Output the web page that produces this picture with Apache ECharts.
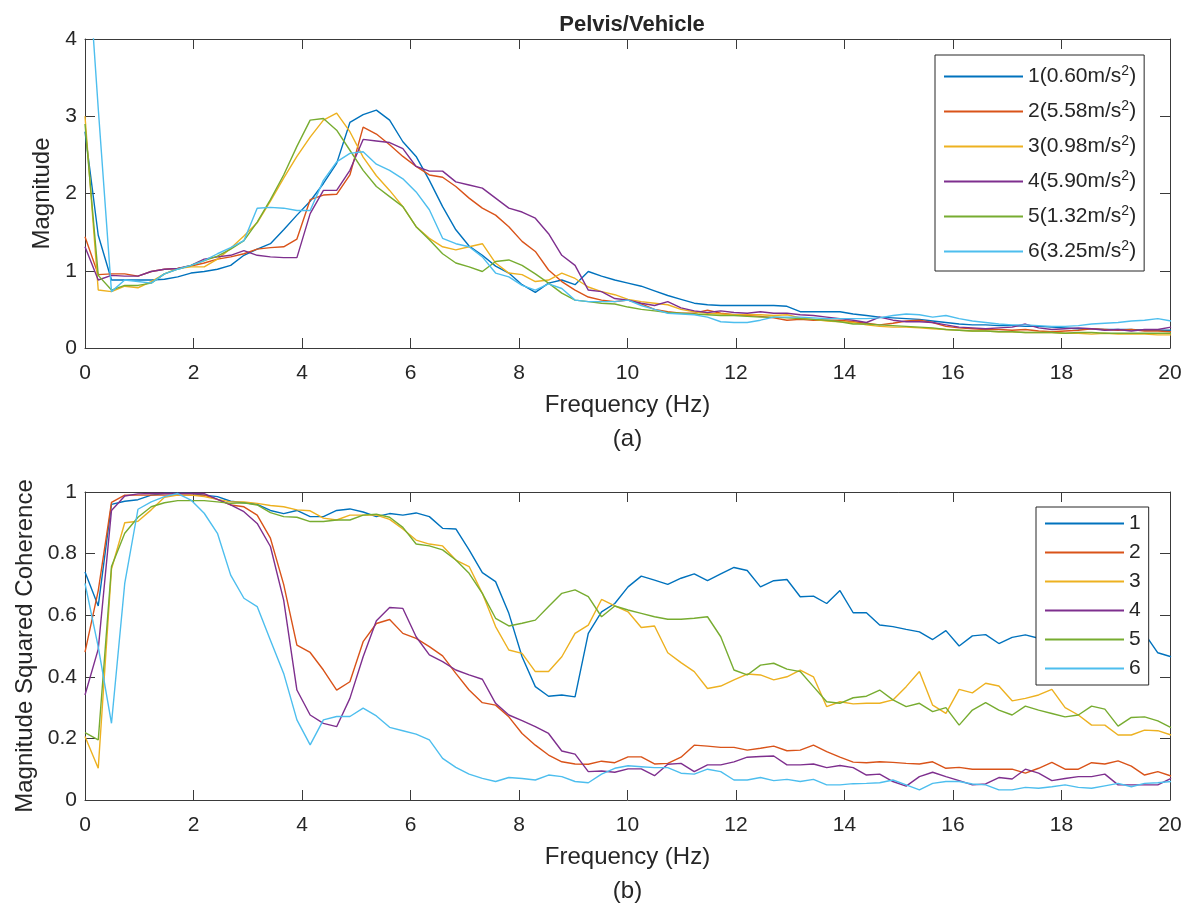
<!DOCTYPE html>
<html>
<head>
<meta charset="utf-8">
<script src="https://cdn.jsdelivr.net/npm/echarts@6/dist/echarts.min.js"></script>
<style>
  html, body { margin: 0; padding: 0; background: #fff; }
  #chart { width: 1191px; height: 905px; }
</style>
</head>
<body>
<div id="chart"></div>
<script>
// frequency resolution of the spectra (Hz per bin)
var df = 250 / 1024;

var colors = ['#0072BD', '#D95319', '#EDB120', '#7E2F8E', '#77AC30', '#4DBEEE'];

var magNames = ['1(0.60m/s²)', '2(5.58m/s²)', '3(0.98m/s²)', '4(5.90m/s²)', '5(1.32m/s²)', '6(3.25m/s²)'];
var cohNames = ['1', '2', '3', '4', '5', '6'];

var xTicks = [0, 20, 2];     // min, max, interval
var magTicks = [0, 4, 1];
var cohTicks = [0, 1, 0.2];

// (a) Pelvis/Vehicle transmissibility magnitude
var mag1 = [2.80,1.46,0.88,0.88,0.88,0.88,0.89,0.92,0.97,0.99,
  1.02,1.07,1.20,1.28,1.35,1.53,1.72,1.90,2.13,2.39,
  2.92,3.02,3.08,2.95,2.67,2.48,2.17,1.83,1.53,1.32,
  1.20,1.06,0.97,0.82,0.72,0.84,0.88,0.82,0.99,0.93,
  0.88,0.84,0.80,0.74,0.68,0.63,0.58,0.56,0.55,0.55,
  0.55,0.55,0.55,0.54,0.47,0.47,0.47,0.47,0.44,0.42,
  0.40,0.39,0.38,0.37,0.35,0.33,0.31,0.30,0.30,0.29,
  0.29,0.28,0.28,0.27,0.26,0.25,0.25,0.24,0.24,0.24,
  0.23,0.23,0.23];
var mag2 = [1.44,0.95,0.96,0.96,0.93,0.99,1.02,1.03,1.06,1.10,
  1.15,1.18,1.22,1.28,1.30,1.31,1.41,1.92,1.98,1.99,
  2.24,2.86,2.77,2.63,2.48,2.35,2.24,2.21,2.09,1.94,
  1.81,1.72,1.57,1.38,1.25,1.01,0.86,0.75,0.66,0.62,
  0.60,0.62,0.57,0.50,0.47,0.45,0.45,0.49,0.45,0.43,
  0.42,0.41,0.39,0.36,0.37,0.36,0.36,0.36,0.34,0.32,
  0.30,0.32,0.35,0.36,0.33,0.28,0.26,0.25,0.24,0.24,
  0.23,0.24,0.22,0.21,0.22,0.23,0.25,0.24,0.23,0.24,
  0.22,0.22,0.21];
var mag3 = [3.00,0.75,0.73,0.80,0.78,0.86,0.96,1.03,1.05,1.05,
  1.15,1.29,1.45,1.62,1.90,2.20,2.48,2.73,2.95,3.04,
  2.80,2.47,2.23,2.04,1.83,1.57,1.42,1.31,1.27,1.31,
  1.35,1.10,0.97,0.95,0.86,0.88,0.97,0.90,0.79,0.73,
  0.69,0.63,0.60,0.58,0.56,0.50,0.47,0.45,0.44,0.43,
  0.43,0.43,0.42,0.43,0.39,0.37,0.35,0.34,0.33,0.30,
  0.28,0.27,0.27,0.26,0.25,0.24,0.23,0.22,0.22,0.21,
  0.21,0.20,0.20,0.20,0.19,0.19,0.18,0.19,0.18,0.18,
  0.18,0.17,0.17];
var mag4 = [1.31,0.88,0.94,0.93,0.93,0.99,1.02,1.03,1.07,1.15,
  1.18,1.20,1.26,1.20,1.18,1.17,1.17,1.74,2.04,2.04,
  2.30,2.70,2.68,2.66,2.58,2.35,2.29,2.29,2.15,2.11,
  2.07,1.94,1.81,1.76,1.68,1.48,1.20,1.07,0.75,0.73,
  0.64,0.62,0.58,0.55,0.60,0.52,0.48,0.46,0.48,0.46,
  0.45,0.47,0.45,0.45,0.43,0.42,0.40,0.38,0.36,0.33,
  0.40,0.36,0.34,0.34,0.33,0.30,0.27,0.26,0.25,0.26,
  0.27,0.31,0.26,0.24,0.25,0.26,0.25,0.23,0.24,0.22,
  0.24,0.24,0.27];
var mag5 = [2.90,0.94,0.75,0.81,0.81,0.84,0.96,1.02,1.07,1.13,
  1.19,1.28,1.39,1.63,1.92,2.24,2.61,2.95,2.97,2.82,
  2.56,2.30,2.09,1.96,1.83,1.57,1.40,1.22,1.10,1.05,
  0.99,1.12,1.14,1.07,0.96,0.84,0.71,0.62,0.60,0.58,
  0.57,0.53,0.50,0.48,0.46,0.45,0.44,0.43,0.42,0.42,
  0.41,0.40,0.40,0.39,0.38,0.37,0.36,0.34,0.31,0.31,
  0.30,0.29,0.28,0.27,0.26,0.24,0.23,0.22,0.22,0.21,
  0.21,0.20,0.20,0.20,0.19,0.20,0.20,0.19,0.19,0.19,
  0.19,0.19,0.19];
var mag6 = [5.60,3.10,0.73,0.88,0.86,0.84,0.96,1.02,1.07,1.13,
  1.22,1.30,1.39,1.81,1.82,1.81,1.78,1.78,2.17,2.41,
  2.52,2.54,2.38,2.30,2.19,2.02,1.79,1.42,1.35,1.31,
  1.18,0.97,0.92,0.81,0.75,0.83,0.77,0.62,0.60,0.60,
  0.60,0.62,0.55,0.50,0.45,0.44,0.43,0.40,0.34,0.33,
  0.33,0.36,0.40,0.40,0.40,0.39,0.38,0.38,0.38,0.38,
  0.39,0.42,0.44,0.43,0.40,0.42,0.38,0.35,0.33,0.31,
  0.30,0.30,0.29,0.28,0.28,0.29,0.31,0.32,0.33,0.35,
  0.36,0.38,0.35];

// (b) magnitude squared coherence
var coh1 = [0.74,0.63,0.96,0.97,0.975,0.99,0.995,0.995,0.995,0.99,
  0.985,0.97,0.965,0.96,0.94,0.93,0.94,0.92,0.92,0.94,
  0.945,0.935,0.92,0.93,0.925,0.932,0.92,0.882,0.88,0.812,
  0.738,0.709,0.606,0.465,0.368,0.337,0.341,0.335,0.541,0.611,
  0.638,0.692,0.727,0.714,0.700,0.720,0.734,0.712,0.734,0.755,
  0.745,0.692,0.712,0.716,0.660,0.662,0.638,0.680,0.608,0.608,
  0.568,0.563,0.554,0.546,0.521,0.550,0.500,0.533,0.537,0.508,
  0.528,0.536,0.525,0.53,0.52,0.53,0.55,0.53,0.54,0.53,
  0.54,0.478,0.465];
var coh2 = [0.48,0.68,0.966,0.99,0.99,0.99,0.99,0.99,0.99,0.99,
  0.976,0.958,0.952,0.925,0.85,0.70,0.503,0.479,0.422,0.357,
  0.384,0.514,0.573,0.586,0.541,0.525,0.498,0.468,0.411,0.357,
  0.316,0.308,0.270,0.216,0.178,0.146,0.124,0.117,0.116,0.126,
  0.121,0.140,0.140,0.117,0.119,0.139,0.178,0.175,0.171,0.171,
  0.162,0.168,0.175,0.160,0.162,0.178,0.157,0.139,0.123,0.121,
  0.124,0.122,0.119,0.117,0.124,0.103,0.106,0.100,0.100,0.100,
  0.100,0.087,0.103,0.122,0.100,0.100,0.121,0.117,0.127,0.110,
  0.081,0.092,0.078];
var coh3 = [0.206,0.103,0.75,0.90,0.905,0.942,0.983,0.99,0.99,0.985,
  0.976,0.968,0.968,0.963,0.956,0.952,0.942,0.939,0.915,0.909,
  0.925,0.925,0.925,0.911,0.88,0.844,0.831,0.825,0.779,0.758,
  0.671,0.563,0.487,0.476,0.417,0.417,0.465,0.541,0.568,0.651,
  0.630,0.611,0.560,0.565,0.478,0.446,0.417,0.362,0.370,0.390,
  0.409,0.406,0.390,0.400,0.422,0.400,0.303,0.319,0.312,0.314,
  0.314,0.325,0.368,0.417,0.308,0.281,0.359,0.348,0.379,0.370,
  0.322,0.330,0.341,0.359,0.300,0.276,0.243,0.243,0.211,0.211,
  0.227,0.225,0.211];
var coh4 = [0.341,0.49,0.94,0.987,0.994,0.995,0.995,0.995,0.995,0.995,
  0.976,0.958,0.936,0.898,0.823,0.649,0.357,0.276,0.249,0.238,
  0.330,0.465,0.582,0.625,0.622,0.530,0.471,0.449,0.422,0.406,
  0.392,0.314,0.276,0.258,0.238,0.216,0.159,0.149,0.092,0.094,
  0.090,0.101,0.101,0.079,0.116,0.119,0.092,0.114,0.114,0.124,
  0.139,0.141,0.143,0.114,0.114,0.117,0.105,0.112,0.105,0.081,
  0.084,0.060,0.045,0.076,0.090,0.076,0.063,0.049,0.052,0.073,
  0.068,0.100,0.087,0.063,0.070,0.076,0.076,0.084,0.049,0.049,
  0.049,0.049,0.070];
var coh5 = [0.219,0.195,0.758,0.866,0.918,0.952,0.965,0.972,0.972,0.972,
  0.968,0.963,0.965,0.958,0.933,0.920,0.918,0.904,0.904,0.909,
  0.909,0.925,0.928,0.918,0.885,0.831,0.825,0.812,0.779,0.736,
  0.671,0.590,0.565,0.574,0.584,0.628,0.671,0.682,0.660,0.595,
  0.630,0.617,0.606,0.595,0.587,0.587,0.590,0.595,0.530,0.422,
  0.406,0.438,0.444,0.425,0.417,0.368,0.319,0.314,0.332,0.337,
  0.357,0.325,0.303,0.314,0.287,0.300,0.243,0.292,0.316,0.292,
  0.276,0.305,0.292,0.281,0.270,0.276,0.305,0.295,0.240,0.268,
  0.270,0.257,0.235];
var coh6 = [0.703,0.497,0.249,0.703,0.944,0.968,0.985,0.995,0.974,0.931,
  0.866,0.730,0.655,0.628,0.519,0.411,0.260,0.179,0.260,0.271,
  0.271,0.298,0.273,0.236,0.225,0.214,0.195,0.135,0.106,0.084,
  0.070,0.060,0.073,0.070,0.065,0.081,0.076,0.060,0.056,0.084,
  0.103,0.111,0.108,0.105,0.105,0.087,0.084,0.100,0.092,0.065,
  0.065,0.073,0.063,0.067,0.060,0.067,0.049,0.049,0.053,0.054,
  0.056,0.065,0.049,0.033,0.054,0.060,0.060,0.052,0.049,0.033,
  0.033,0.041,0.038,0.043,0.049,0.041,0.038,0.046,0.054,0.043,
  0.054,0.056,0.060];

var magData = [mag1, mag2, mag3, mag4, mag5, mag6];
var cohData = [coh1, coh2, coh3, coh4, coh5, coh6];

var font = '"Liberation Sans", Arial, sans-serif';
var ink = '#262626';
var axisCol = '#3a3a3a';

function pairs(vals) {
    return vals.map(function(v, i) { return [i * df, v]; });
}

function xAxis(grid, pos, name) {
    return {
        type: 'value', gridIndex: grid, position: pos,
        min: xTicks[0], max: xTicks[1], interval: xTicks[2],
        axisLine: { show: true, onZero: false, lineStyle: { color: axisCol, width: 1 } },
        axisTick: { show: true, inside: true, length: 10, lineStyle: { color: axisCol } },
        axisLabel: { show: pos === 'bottom', fontSize: 21, margin: 15, color: ink, fontFamily: font },
        splitLine: { show: false },
        name: name || '', nameLocation: 'middle', nameGap: 40,
        nameTextStyle: { fontSize: 24, color: ink, fontFamily: font, lineHeight: 34 }
    };
}

function yAxis(grid, pos, ticks, name, gap) {
    return {
        type: 'value', gridIndex: grid, position: pos,
        min: ticks[0], max: ticks[1], interval: ticks[2],
        axisLine: { show: true, onZero: false, lineStyle: { color: axisCol, width: 1 } },
        axisTick: { show: true, inside: true, length: 10, lineStyle: { color: axisCol } },
        axisLabel: { show: pos === 'left', fontSize: 21, margin: 8, color: ink, fontFamily: font },
        splitLine: { show: false },
        name: name || '', nameLocation: 'middle', nameGap: gap || 0,
        nameTextStyle: { fontSize: 24, color: ink, fontFamily: font }
    };
}

var series = [];
magData.forEach(function(vals, k) {
    series.push({
        name: magNames[k], type: 'line', xAxisIndex: 0, yAxisIndex: 0,
        data: pairs(vals), symbol: 'none', color: colors[k],
        lineStyle: { width: 1.4 }, animation: false
    });
});
cohData.forEach(function(vals, k) {
    series.push({
        name: cohNames[k], type: 'line', xAxisIndex: 2, yAxisIndex: 2,
        data: pairs(vals), symbol: 'none', color: colors[k],
        lineStyle: { width: 1.4 }, animation: false
    });
});

var legendBase = {
    orient: 'vertical', itemWidth: 79, itemHeight: 14,
    itemStyle: { opacity: 0 },
    borderColor: ink, borderWidth: 1, backgroundColor: '#fff',
    textStyle: { fontSize: 21, color: ink, fontFamily: font,
        rich: { sup: { fontSize: 14, color: ink, fontFamily: font, padding: [0, 0, 11, 0] } } }
};

var myChart = echarts.init(document.getElementById('chart'));

option = {
    backgroundColor: '#fff',
    animation: false,
    title: {
        text: 'Pelvis/Vehicle', left: 627, top: 9, textAlign: 'center',
        textStyle: { fontSize: 22, fontWeight: 'bold', color: ink, fontFamily: font }
    },
    grid: [
        { left: 85, top: 39, width: 1085, height: 309, outerBoundsMode: 'none' },
        { left: 85, top: 492, width: 1085, height: 308, outerBoundsMode: 'none' }
    ],
    xAxis: [
        xAxis(0, 'bottom', 'Frequency (Hz)\n(a)'),
        xAxis(0, 'top'),
        xAxis(1, 'bottom', 'Frequency (Hz)\n(b)'),
        xAxis(1, 'top')
    ],
    yAxis: [
        yAxis(0, 'left', magTicks, 'Magnitude', 24),
        yAxis(0, 'right', magTicks),
        yAxis(1, 'left', cohTicks, 'Magnitude Squared Coherence', 42),
        yAxis(1, 'right', cohTicks)
    ],
    legend: [
        Object.assign({}, legendBase, {
            data: magNames, left: 935, top: 55, itemGap: 12, padding: [9, 8, 9, 8],
            formatter: function(name) { return name.replace('²', '{sup|2}'); }
        }),
        Object.assign({}, legendBase, {
            data: cohNames, left: 1036, top: 507, itemGap: 8, padding: [6, 8, 6, 8]
        })
    ],
    series: series
};

option && myChart.setOption(option);
</script>
</body>
</html>
